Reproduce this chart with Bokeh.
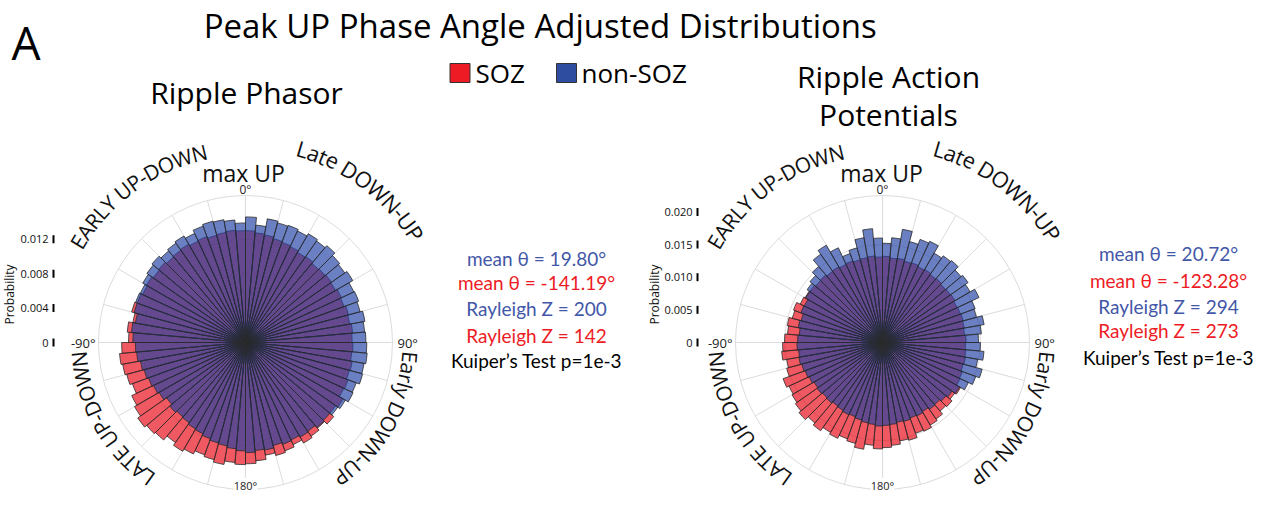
import math
from bokeh.plotting import figure
from bokeh.models import Range1d
from bokeh.embed import file_html
from bokeh.resources import INLINE
from bokeh.core.properties import value

# ---------------- data ----------------
bin_centers = [-177.5 + 5 * i for i in range(72)]  # degrees, 0 = up, clockwise positive
bin_width = 5.0

phasor_soz = [
    0.0142, 0.0140, 0.0144, 0.0141, 0.0139, 0.0143, 0.0146, 0.0142, 0.0148, 0.0150, 0.0153, 0.0149, 0.0146, 0.0140, 0.0143, 0.0145, 0.0147, 0.0144,
    0.0136, 0.0138, 0.0133, 0.0137, 0.0134, 0.0132, 0.0133, 0.0131, 0.0132, 0.0130, 0.0131, 0.0132, 0.0130, 0.0131, 0.0129, 0.0130, 0.0131, 0.0130,
    0.0130, 0.0128, 0.0127, 0.0125, 0.0124, 0.0123, 0.0121, 0.0122, 0.0120, 0.0121, 0.0122, 0.0121, 0.0123, 0.0122, 0.0124, 0.0123, 0.0125, 0.0124,
    0.0125, 0.0124, 0.0126, 0.0125, 0.0127, 0.0126, 0.0131, 0.0128, 0.0134, 0.0130, 0.0133, 0.0135, 0.0131, 0.0134, 0.0136, 0.0133, 0.0138, 0.0141,
]
phasor_nonsoz = [
    0.0126, 0.0124, 0.0122, 0.0121, 0.0119, 0.0117, 0.0116, 0.0114, 0.0113, 0.0115, 0.0112, 0.0116, 0.0118, 0.0120, 0.0122, 0.0124, 0.0127, 0.0128,
    0.0131, 0.0133, 0.0130, 0.0134, 0.0136, 0.0135, 0.0138, 0.0140, 0.0142, 0.0139, 0.0141, 0.0143, 0.0140, 0.0144, 0.0146, 0.0145, 0.0143, 0.0139,
    0.0146, 0.0137, 0.0146, 0.0144, 0.0145, 0.0143, 0.0146, 0.0144, 0.0147, 0.0143, 0.0141, 0.0144, 0.0139, 0.0140, 0.0138, 0.0141, 0.0139, 0.0140,
    0.0141, 0.0142, 0.0140, 0.0141, 0.0137, 0.0138, 0.0134, 0.0131, 0.0128, 0.0129, 0.0126, 0.0127, 0.0125, 0.0126, 0.0124, 0.0127, 0.0126, 0.0128,
]
ap_soz = [
    0.0163, 0.0158, 0.0166, 0.0160, 0.0157, 0.0162, 0.0159, 0.0165, 0.0161, 0.0167, 0.0163, 0.0160, 0.0158, 0.0162, 0.0152, 0.0149, 0.0155, 0.0153,
    0.0150, 0.0146, 0.0148, 0.0143, 0.0145, 0.0139, 0.0137, 0.0136, 0.0134, 0.0135, 0.0133, 0.0134, 0.0132, 0.0133, 0.0131, 0.0132, 0.0133, 0.0131,
    0.0132, 0.0130, 0.0131, 0.0129, 0.0130, 0.0128, 0.0129, 0.0127, 0.0128, 0.0126, 0.0127, 0.0128, 0.0126, 0.0127, 0.0128, 0.0127, 0.0126, 0.0128,
    0.0127, 0.0128, 0.0129, 0.0128, 0.0130, 0.0131, 0.0138, 0.0135, 0.0139, 0.0137, 0.0143, 0.0146, 0.0150, 0.0148, 0.0155, 0.0153, 0.0158, 0.0161,
]
ap_nonsoz = [
    0.0128, 0.0126, 0.0125, 0.0123, 0.0121, 0.0122, 0.0120, 0.0119, 0.0121, 0.0120, 0.0122, 0.0121, 0.0124, 0.0126, 0.0128, 0.0130, 0.0129, 0.0131,
    0.0130, 0.0128, 0.0131, 0.0129, 0.0133, 0.0132, 0.0136, 0.0141, 0.0145, 0.0152, 0.0165, 0.0172, 0.0160, 0.0145, 0.0150, 0.0163, 0.0175, 0.0160,
    0.0152, 0.0161, 0.0176, 0.0160, 0.0168, 0.0171, 0.0158, 0.0162, 0.0164, 0.0157, 0.0160, 0.0155, 0.0163, 0.0151, 0.0149, 0.0158, 0.0152, 0.0147,
    0.0150, 0.0156, 0.0148, 0.0158, 0.0152, 0.0145, 0.0136, 0.0130, 0.0127, 0.0124, 0.0125, 0.0122, 0.0124, 0.0123, 0.0125, 0.0124, 0.0126, 0.0127,
]

phasor_ticks = [0, 0.004, 0.008, 0.012]
phasor_tick_labels = ["0", "0.004", "0.008", "0.012"]
ap_ticks = [0, 0.005, 0.010, 0.015, 0.020]
ap_tick_labels = ["0", "0.005", "0.010", "0.015", "0.020"]

theta_labels = ["0°", "90°", "180°", "-90°"]
phase_labels = ["EARLY UP-DOWN", "Late DOWN-UP", "Early DOWN-UP", "LATE UP-DOWN"]

stats_phasor = ["mean θ = 19.80°", "mean θ = -141.19°", "Rayleigh Z = 200", "Rayleigh Z = 142", "Kuiper’s Test p=1e-3"]
stats_ap = ["mean θ = 20.72°", "mean θ = -123.28°", "Rayleigh Z = 294", "Rayleigh Z = 273", "Kuiper’s Test p=1e-3"]
stats_colors = ["#4357a8", "#ed1c24", "#4357a8", "#ed1c24", "#000000"]

# ---------------- figure ----------------
W, H = 1256, 494

p = figure(width=W, height=H, x_range=Range1d(0, W), y_range=Range1d(0, H),
           output_backend="svg", toolbar_location=None, min_border=0,
           x_axis_location=None, y_axis_location=None)
p.xgrid.visible = False
p.ygrid.visible = False
p.outline_line_color = None
p.background_fill_color = "white"

OS = value("Open Sans")
LT = value("Lato")

def Y(img_y):
    return H - img_y

polars = {
    "L": dict(cx=245, cy=342, s=8600.0, rmax_px=147),
    "R": dict(cx=882, cy=342, s=6530.0, rmax_px=147),
}
xr, yr = {}, {}
for name, d in polars.items():
    fx = d["cx"]
    fy = H - d["cy"]
    xr[name + "x"] = Range1d(-fx / d["s"], (W - fx) / d["s"])
    yr[name + "y"] = Range1d(-fy / d["s"], (H - fy) / d["s"])
p.extra_x_ranges = xr
p.extra_y_ranges = yr

GRID = "#dcdcdc"

def txt(x, y, t, fs, font=OS, align="center", color="black", **extra):
    p.text(x=x, y=[Y(v) for v in y], text=t, text_font=font, text_font_size=f"{fs}px",
           text_align=align, text_baseline="middle", text_color=color, **extra)

def polar_panel(name, soz, nonsoz, grid_r):
    d = polars[name]
    rmax = d["rmax_px"] / d["s"]
    kw = dict(x_range_name=name + "x", y_range_name=name + "y")
    angs = [math.radians(a) for a in range(0, 360, 15)]
    p.segment(x0=0, y0=0, x1=[rmax * math.sin(a) for a in angs], y1=[rmax * math.cos(a) for a in angs],
              line_color=GRID, line_width=1, **kw)
    for rr in grid_r + [rmax]:
        p.circle(x=0, y=0, radius=rr, fill_color=None, line_color=GRID, line_width=1, **kw)
    start = [math.radians(90 - (c + bin_width / 2)) for c in bin_centers]
    end = [math.radians(90 - (c - bin_width / 2)) for c in bin_centers]
    p.wedge(x=0, y=0, radius=soz, start_angle=start, end_angle=end,
            fill_color="#e8000c", fill_alpha=0.65, line_color="#2a2a2a", line_alpha=0.8, line_width=1, **kw)
    p.wedge(x=0, y=0, radius=nonsoz, start_angle=start, end_angle=end,
            fill_color="#2142a4", fill_alpha=0.67, line_color="#2a2a2a", line_alpha=0.8, line_width=1, **kw)
    cx, cy = d["cx"], d["cy"]
    txt([cx], [cy - 153], [theta_labels[0]], 12, color="#222")
    txt([cx + 152], [cy], [theta_labels[1]], 13, align="left", color="#222")
    txt([cx], [485], [theta_labels[2]], 11, color="#222", background_fill_color="white")
    txt([cx - 150], [cy], [theta_labels[3]], 13, align="right", color="#222")

polar_panel("L", phasor_soz, phasor_nonsoz, [0.004, 0.008, 0.012])
polar_panel("R", ap_soz, ap_nonsoz, [0.005, 0.010, 0.015])

def prob_axis(name, ticks, labels, label_x, tick_x, title_x, title_y):
    p.text(x=[label_x] * len(ticks), y=ticks, text=labels, text_font=OS, text_font_size="11px",
           text_align="right", text_baseline="middle", text_color="#111", y_range_name=name + "y")
    p.rect(x=[tick_x] * len(ticks), y=ticks, width=2, height=8, width_units="screen", height_units="screen",
           fill_color="black", line_color=None, y_range_name=name + "y")
    p.text(x=[title_x], y=[Y(title_y)], text=["Probability"], angle=math.pi / 2, text_font=OS,
           text_font_size="12px", text_align="center", text_baseline="middle", text_color="#111")

prob_axis("L", phasor_ticks, phasor_tick_labels, 48, 53, 9, 294)
prob_axis("R", ap_ticks, ap_tick_labels, 692, 697, 654, 294)

CW = {"A": .633, "B": .647, "C": .631, "D": .729, "E": .556, "L": .519, "N": .754, "O": .779, "P": .602,
      "R": .618, "T": .553, "U": .729, "W": .925, "Y": .560, "a": .556, "e": .561, "l": .258, "r": .408,
      "t": .347, "y": .498, "-": .322, " ": .26}

def arc_text(label, cx, cy, r, mid_deg, fs):
    # r is the radius of the middle of the letters
    widths = [CW.get(ch, 0.55) * fs for ch in label]
    total = sum(widths)
    a0 = math.radians(mid_deg) - (total / 2) / r
    xs, ys, angs, chars = [], [], [], []
    acc = 0.0
    for ch, w in zip(label, widths):
        a = a0 + (acc + w / 2) / r
        acc += w
        if ch == " ":
            continue
        xs.append(cx + r * math.sin(a))
        ys.append(Y(cy - r * math.cos(a)))
        angs.append(-a)
        chars.append(ch)
    p.text(x=xs, y=ys, text=chars, angle=angs, text_font=OS, text_font_size=f"{fs}px",
           text_align="center", text_baseline="middle", text_color="#111")

for cx in (245, 882):
    arc_text(phase_labels[0], cx, 342, 195, -36.0, 21)
    arc_text(phase_labels[1], cx, 342, 202, 37.0, 22)
    arc_text(phase_labels[2], cx, 342, 165, 120.0, 21)
    arc_text(phase_labels[3], cx, 342, 167, -119.5, 21)

txt([243, 881], [172, 172], ["max UP", "max UP"], 23, color="#111")

txt([11], [41.5], ["A"], 46, align="left")
txt([544], [25], ["Peak UP Phase Angle Adjusted  Distributions"], 33)
txt([246], [92], ["Ripple Phasor"], 30)
txt([888, 888], [76, 114], ["Ripple Action", "Potentials"], 30)

p.rect(x=[459.5, 566], y=[Y(72.5), Y(72.5)], width=20, height=19, fill_color=["#ed1c24", "#2e4da0"],
       line_color="#333", line_width=1)
txt([475, 581], [72.5, 72.5], ["SOZ", "non-SOZ"], 26, align="left")

p.text(x=[536] * 5, y=[Y(v) for v in [258, 282, 308, 335, 360]], text=stats_phasor, text_color=stats_colors,
       text_font=LT, text_font_size="19px", text_align="center", text_baseline="middle")
p.text(x=[1168] * 5, y=[Y(v) for v in [253, 280, 306, 330, 357]], text=stats_ap, text_color=stats_colors,
       text_font=LT, text_font_size="19px", text_align="center", text_baseline="middle")

open("out.html", "w").write(file_html(p, INLINE))
